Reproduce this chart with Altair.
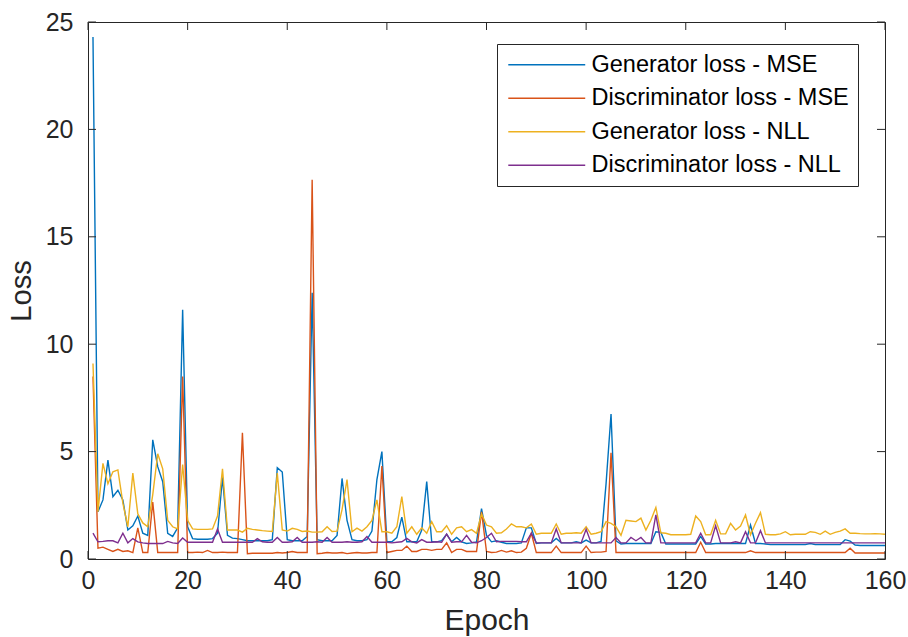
import altair as alt
import pandas as pd

epochs = list(range(1, 161))

gen_mse = [
    24.3, 2.2, 2.75, 4.6, 2.9, 3.2, 2.75, 1.35, 1.55, 2.0,
    1.2, 1.1, 5.55, 4.3, 3.6, 1.2, 1.05, 1.45, 11.6, 1.5,
    0.95, 0.92, 0.92, 0.92, 0.95, 1.2, 3.8, 1.1, 0.97, 0.95,
    0.9, 0.85, 0.85, 0.85, 0.85, 0.85, 0.9, 4.25, 4.05, 0.9,
    0.85, 0.85, 0.85, 1.05, 12.4, 0.9, 0.85, 0.85, 0.85, 1.1,
    3.75, 1.8, 0.9, 0.85, 0.85, 0.9, 1.3, 3.7, 5.0, 0.8,
    0.8, 1.0, 1.95, 0.8, 0.8, 0.8, 1.35, 3.6, 0.8, 0.8,
    0.85, 1.15, 0.8, 1.0, 0.8, 0.72, 0.75, 0.8, 2.35, 1.1,
    0.8, 0.85, 0.78, 0.72, 0.72, 0.72, 0.75, 1.45, 1.45, 0.72,
    0.75, 0.75, 0.75, 0.96, 0.75, 0.75, 0.75, 0.8, 0.75, 0.88,
    0.75, 0.75, 0.82, 3.5, 6.75, 0.85, 0.7, 0.72, 0.72, 0.72,
    0.72, 0.72, 0.72, 1.27, 1.24, 0.7, 0.7, 0.7, 0.7, 0.7,
    0.7, 0.7, 1.05, 0.7, 0.7, 0.72, 0.72, 0.72, 0.72, 0.72,
    0.72, 0.72, 1.58, 0.72, 0.72, 0.7, 0.67, 0.67, 0.67, 0.67,
    0.67, 0.67, 0.67, 0.67, 0.72, 0.67, 0.67, 0.67, 0.67, 0.67,
    0.67, 0.9, 0.83, 0.65, 0.63, 0.63, 0.63, 0.63, 0.63, 0.63,
]

disc_mse = [
    8.5, 0.5, 0.55, 0.45, 0.35, 0.45, 0.35, 0.38, 0.3, 1.45,
    0.3, 0.3, 2.65, 0.3, 0.3, 0.3, 0.3, 0.3, 8.5, 0.3,
    0.3, 0.32, 0.3, 0.4, 0.3, 0.3, 0.32, 0.3, 0.3, 0.3,
    5.88, 0.25, 0.27, 0.27, 0.27, 0.27, 0.27, 0.3, 0.28, 0.3,
    0.35, 0.3, 0.3, 0.3, 17.65, 0.25, 0.27, 0.3, 0.28, 0.28,
    0.3, 0.25, 0.28, 0.3, 0.28, 0.28, 0.3, 0.3, 4.33, 0.3,
    0.35, 0.4, 0.4, 0.6, 0.35, 0.35, 0.45, 0.45, 0.4, 0.45,
    0.45, 0.75, 0.3, 0.45, 0.45, 0.35, 0.35, 0.35, 2.2, 0.35,
    0.3, 0.32, 0.4, 0.32, 0.38, 0.3, 0.32, 0.5, 1.2, 0.3,
    0.3, 0.3, 0.3, 0.6, 0.3, 0.3, 0.3, 0.3, 0.3, 0.6,
    0.3, 0.32, 0.32, 0.35, 4.95, 0.3, 0.3, 0.3, 0.3, 0.3,
    0.3, 0.3, 0.3, 0.3, 0.3, 0.3, 0.3, 0.3, 0.3, 0.3,
    0.3, 0.3, 0.78, 0.3, 0.3, 0.3, 0.3, 0.3, 0.3, 0.3,
    0.3, 0.3, 0.38, 0.3, 0.3, 0.3, 0.3, 0.3, 0.3, 0.3,
    0.3, 0.3, 0.3, 0.3, 0.3, 0.3, 0.3, 0.3, 0.3, 0.3,
    0.3, 0.3, 0.5, 0.28, 0.28, 0.28, 0.28, 0.28, 0.28, 0.28,
]

gen_nll = [
    9.1, 2.2, 4.45, 3.5, 4.06, 4.15, 2.6, 1.5, 4.0, 2.1,
    1.68, 1.5, 3.0, 4.9, 4.2, 1.8, 1.5, 1.4, 4.4, 1.8,
    1.4, 1.38, 1.38, 1.38, 1.4, 2.0, 4.2, 1.35, 1.35, 1.35,
    1.25, 1.43, 1.38, 1.35, 1.32, 1.3, 1.28, 4.0, 1.35, 1.3,
    1.43, 1.38, 1.28, 1.3, 1.25, 1.25, 1.27, 1.5, 1.28, 1.3,
    2.3, 3.7, 1.27, 1.44, 1.3, 1.5, 1.8, 2.75, 1.27, 1.27,
    1.2, 1.5, 2.9, 1.2, 1.5, 1.15, 1.45, 1.2, 1.74, 1.27,
    1.27, 1.55, 1.15, 1.45, 1.5, 1.27, 1.37, 1.2, 2.1, 1.58,
    1.5, 1.2, 1.22, 1.4, 1.63, 1.5, 1.5, 1.45, 1.63, 1.15,
    1.2, 1.2, 1.2, 1.63, 1.15, 1.2, 1.2, 1.22, 1.2, 1.5,
    1.15, 1.2, 1.27, 1.74, 1.66, 1.5, 1.1, 1.8, 1.77, 1.74,
    1.9, 1.35, 1.8, 2.4, 1.22, 1.2, 1.13, 1.13, 1.13, 1.13,
    1.15, 2.0, 1.74, 1.13, 1.13, 1.8, 1.17, 1.17, 1.66, 1.35,
    1.53, 2.05, 1.13, 1.66, 2.16, 1.15, 1.13, 1.13, 1.17, 1.27,
    1.13, 1.15, 1.15, 1.15, 1.27, 1.24, 1.15, 1.3, 1.15, 1.24,
    1.3, 1.4, 1.2, 1.2, 1.18, 1.17, 1.17, 1.18, 1.17, 1.15,
]

disc_nll = [
    1.2, 0.8, 0.82, 0.85, 0.85, 0.75, 1.2, 0.75, 0.95, 0.8,
    0.75, 0.72, 0.72, 0.72, 0.72, 0.82, 0.75, 0.72, 0.98, 0.78,
    0.78, 0.78, 0.78, 0.78, 0.78, 1.4, 0.78, 0.78, 0.78, 0.78,
    0.78, 0.78, 0.78, 0.95, 0.8, 0.78, 0.78, 1.0, 0.78, 0.78,
    0.8, 1.0, 0.78, 0.78, 0.78, 0.8, 0.78, 1.0, 0.78, 0.78,
    0.78, 0.8, 0.78, 0.78, 0.8, 1.05, 0.78, 0.78, 0.78, 0.78,
    0.75, 0.78, 0.8, 0.96, 0.8, 0.75, 0.9, 0.78, 0.78, 0.8,
    0.78, 1.16, 0.78, 0.8, 0.8, 1.1, 0.78, 0.75, 0.85, 1.0,
    1.2, 0.8, 0.82, 0.82, 0.82, 0.82, 0.8, 0.8, 1.2, 0.75,
    0.75, 0.75, 0.75, 1.4, 0.75, 0.75, 0.75, 0.75, 0.75, 1.38,
    0.75, 0.75, 0.75, 0.75, 0.75, 1.0, 0.75, 0.75, 1.0, 0.85,
    1.0, 0.75, 0.75, 2.05, 0.75, 0.75, 0.75, 0.75, 0.75, 0.75,
    0.75, 0.75, 1.2, 0.75, 0.75, 1.55, 0.75, 0.75, 0.75, 0.8,
    0.75, 1.27, 0.75, 0.75, 1.32, 0.75, 0.75, 0.75, 0.75, 0.75,
    0.75, 0.75, 0.75, 0.75, 0.75, 0.75, 0.75, 0.75, 0.75, 0.75,
    0.75, 0.75, 0.75, 0.75, 0.75, 0.75, 0.75, 0.75, 0.75, 0.75,
]

names = [
    "Generator loss - MSE",
    "Discriminator loss - MSE",
    "Generator loss - NLL",
    "Discriminator loss - NLL",
]
colors = ["#0072BD", "#D95319", "#EDB120", "#7E2F8E"]
x_ticks = [0, 20, 40, 60, 80, 100, 120, 140, 160]
y_ticks = [0, 5, 10, 15, 20, 25]

rows = []
for i, (name, series) in enumerate(zip(names, [gen_mse, disc_mse, gen_nll, disc_nll])):
    for e, v in zip(epochs, series):
        rows.append({"epoch": e, "loss": v, "series": name, "k": i})
df = pd.DataFrame(rows)

FONT = "Liberation Sans"
AX = "#262626"
W, H = 797, 537

xscale = alt.Scale(domain=[0, 160], nice=False, zero=False)
yscale = alt.Scale(domain=[0, 25], nice=False, zero=True)

x_axis = alt.Axis(values=x_ticks, title="Epoch", ticks=False, grid=False, domain=False,
                  labelFont=FONT, labelFontSize=25, labelColor=AX, labelPadding=9,
                  titleFont=FONT, titleFontSize=30, titleFontWeight="normal",
                  titleColor=AX, titlePadding=12, labelFlush=False)
y_axis = alt.Axis(values=y_ticks, title="Loss", ticks=False, grid=False, domain=False,
                  labelFont=FONT, labelFontSize=25, labelColor=AX, labelPadding=15,
                  titleFont=FONT, titleFontSize=29, titleFontWeight="normal",
                  titleColor=AX, titlePadding=9, labelFlush=False)

lines = alt.Chart(df).mark_line(strokeWidth=1.4, clip=True).encode(
    x=alt.X("epoch:Q", scale=xscale, axis=x_axis),
    y=alt.Y("loss:Q", scale=yscale, axis=y_axis),
    color=alt.Color(
        "series:N",
        scale=alt.Scale(domain=names, range=colors),
        sort=names,
        legend=alt.Legend(
            title=None, orient="none", legendX=409, legendY=22,
            symbolType="M-4,0L4,0", symbolSize=370, symbolStrokeWidth=1.4,
            symbolOffset=29,
            labelFont=FONT, labelFontSize=23.5, labelColor="black",
            fillColor="white", strokeColor=AX, padding=9,
            rowPadding=8.5, labelOffset=33, labelLimit=500,
        ),
    ),
    order=alt.Order("k:Q"),
)

xt = pd.DataFrame({"t": x_ticks})
yt = pd.DataFrame({"t": y_ticks})
tick_style = dict(color=AX, strokeWidth=1)

xt_bottom = alt.Chart(xt).mark_rule(**tick_style).encode(
    x=alt.X("t:Q", scale=xscale, title="Epoch"), y=alt.value(H), y2=alt.value(H - 8))
xt_top = alt.Chart(xt).mark_rule(**tick_style).encode(
    x=alt.X("t:Q", scale=xscale, title="Epoch"), y=alt.value(0), y2=alt.value(8))
yt_left = alt.Chart(yt).mark_rule(**tick_style).encode(
    y=alt.Y("t:Q", scale=yscale, title="Loss"), x=alt.value(0), x2=alt.value(8))
yt_right = alt.Chart(yt).mark_rule(**tick_style).encode(
    y=alt.Y("t:Q", scale=yscale, title="Loss"), x=alt.value(W), x2=alt.value(W - 8))

chart = alt.layer(lines, xt_bottom, xt_top, yt_left, yt_right).properties(
    width=W, height=H,
    autosize=alt.AutoSizeParams(type="none"),
    padding={"left": 88, "top": 22, "right": 23, "bottom": 78},
    background="white",
).configure_view(stroke=AX, strokeWidth=1)

chart.save("out.html", embed_options={"renderer": "svg", "actions": False})
